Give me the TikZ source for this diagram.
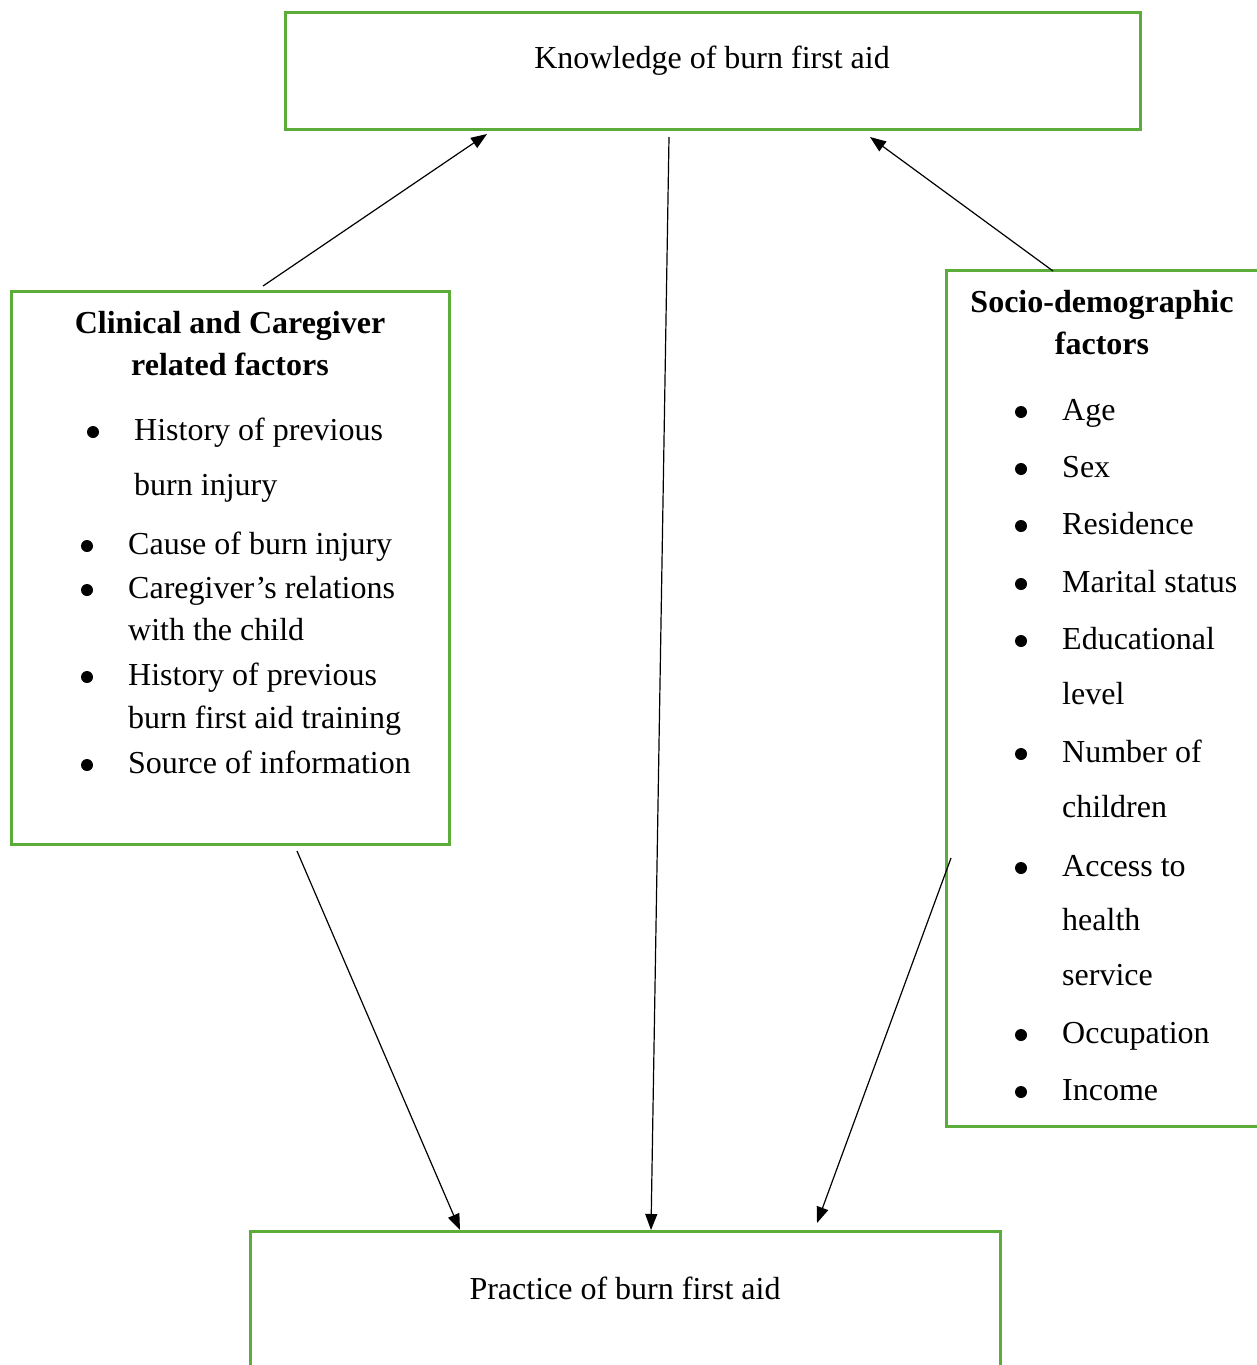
\documentclass[tikz,border=0pt]{standalone}
\usepackage{fontspec}
\setmainfont{Liberation Serif}
\usetikzlibrary{arrows.meta}
\definecolor{boxgreen}{RGB}{92,172,58}
\begin{document}
\begin{tikzpicture}[x=1pt,y=-1pt,
  box/.style={draw=boxgreen,line width=3pt},
  txt/.style={inner sep=0pt,anchor=base west,font=\fontsize{32}{38}\selectfont},
  head/.style={inner sep=0pt,anchor=base,font=\fontsize{32}{38}\selectfont\bfseries},
  ctr/.style={inner sep=0pt,anchor=base,font=\fontsize{32}{38}\selectfont},
  bul/.style={circle,fill=black,inner sep=0pt,minimum size=12pt,yshift=8pt},
  link/.style={line width=1.2pt,-{Triangle[length=16pt,width=12pt]}}]
\useasboundingbox (0,0) rectangle (1256,1365);
% boxes
\draw[box] (285,12) rectangle (1140,129);
\draw[box] (11,291) rectangle (449,844);
\draw[box] (946,270) rectangle (1270,1126);
\draw[box] (250,1231) rectangle (1000,1380);
% titles
\node[ctr] (know) at (712,68) {Knowledge of burn first aid};
\node[ctr] (prac) at (625,1299) {Practice of burn first aid};
% left box
\node[head] (lh1) at (230,333) {Clinical and Caregiver};
\node[head] (lh2) at (230,375) {related factors};
\node[bul] (lb1) at (93,440) {};
\node[txt] (l1a) at (134,440) {History of previous};
\node[txt] (l1b) at (134,495) {burn injury};
\node[bul] (lb2) at (87,554) {};
\node[txt] (l2) at (128,554) {Cause of burn injury};
\node[bul] (lb3) at (87,598) {};
\node[txt] (l3a) at (128,598) {Caregiver’s relations};
\node[txt] (l3b) at (128,640) {with the child};
\node[bul] (lb4) at (87,685) {};
\node[txt] (l4a) at (128,685) {History of previous};
\node[txt] (l4b) at (128,728) {burn first aid training};
\node[bul] (lb5) at (87,773) {};
\node[txt] (l5) at (128,773) {Source of information};
% right box
\node[head] (rh1) at (1102,312) {Socio-demographic};
\node[head] (rh2) at (1102,354) {factors};
\foreach \y/\t [count=\i] in {420/Age,477/Sex,534/Residence,592/Marital status,649/Educational,762/Number of,876/Access to,1043/Occupation,1100/Income}{
  \node[bul] (rb\i) at (1021,\y) {};
  \node[txt] (rt\i) at (1062,\y) {\t};
}
\node[txt] (rc1) at (1062,704) {level};
\node[txt] (rc2) at (1062,817) {children};
\node[txt] (rc3) at (1062,930) {health};
\node[txt] (rc4) at (1062,985) {service};
% connector ends
\coordinate (a1s) at (263,286);
\coordinate (a1e) at (487,134);
\coordinate (a2s) at (669,137);
\coordinate (a2e) at (651,1230);
\coordinate (a3s) at (1053,271);
\coordinate (a3e) at (870,137);
\coordinate (a4s) at (297,851);
\coordinate (a4e) at (460,1230);
\coordinate (a5s) at (951,858);
\coordinate (a5e) at (817,1223);
\draw[link] (a1s) -- (a1e);
\draw[link] (a2s) -- (a2e);
\draw[link] (a3s) -- (a3e);
\draw[link] (a4s) -- (a4e);
\draw[link] (a5s) -- (a5e);
\end{tikzpicture}
\end{document}
